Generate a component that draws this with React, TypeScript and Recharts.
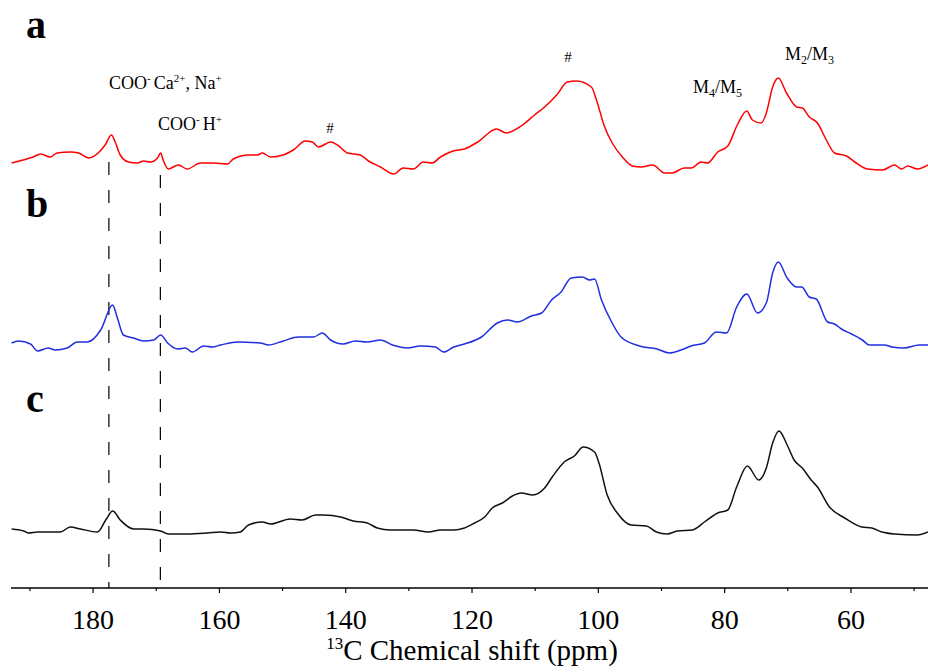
import { LineChart, Line, XAxis, YAxis, ReferenceLine } from 'recharts';

// chemical shift axis (ppm), reversed as in NMR plots
const PPM_MIN = 47.8;
const PPM_MAX = 193;
const PPM_TICKS = [190, 180, 170, 160, 150, 140, 130, 120, 110, 100, 90, 80, 70, 60, 50];

// vertical stacking offsets for the three spectra
const OFFSET_A = 420;
const OFFSET_B = 240;
const OFFSET_C = 55;

// dashed guides for the carboxyl peaks
const COO_SALT_PPM = 177.5;
const COO_ACID_PPM = 169.35;

// spectrum a (red)
const ppmA = [
  192.9, 189.5, 188.3, 186.8, 185.7, 183.6, 182.3, 180.7, 179.2, 178.1, 177.1, 176.5, 175.7, 174.4,
  173.0, 172.0, 170.9, 169.8, 169.3, 168.9, 168.1, 166.5, 165.1, 163.0, 160.9, 158.7, 157.8, 155.4,
  154.0, 153.2, 151.9, 149.9, 148.3, 146.4, 145.3, 144.3, 142.4, 141.3, 139.7, 137.7, 136.4, 134.5,
  132.4, 130.9, 129.3, 127.7, 126.3, 125.0, 123.0, 121.2, 119.1, 116.1, 114.6, 112.0, 110.1, 108.5,
  106.6, 104.9, 103.5, 101.1, 100.3, 99.0, 97.8, 96.2, 94.6, 93.2, 91.4, 89.5, 88.3, 86.4, 85.3,
  83.7, 82.7, 81.1, 79.5, 78.0, 76.5, 75.6, 74.2, 73.4, 72.4, 71.5, 70.2, 68.6, 67.7, 66.6, 65.3,
  63.9, 62.6, 60.7, 59.4, 57.4, 55.0, 53.1, 52.0, 51.0, 49.5, 47.8,
];
const intA = [
  5, 11, 14, 11, 15, 16, 15, 10, 15, 23, 33, 26, 13, 6,
  5, 7, 6, 10, 15, 8, -1, 3, -1, 5, 5, 4, 9, 13,
  13, 15, 11, 13, 18, 27, 26, 21, 26, 23, 15, 13, 7, 1,
  -6, 0, -1, 6, 5, 11, 17, 19, 26, 39, 35, 43, 53, 61,
  73, 86, 87, 81, 68, 41, 25, 11, 2, 1, 3, -5, -5, 0, 0,
  6, 5, 16, 22, 43, 57, 48, 45, 55, 81, 90, 75, 61, 60, 51, 45,
  28, 15, 12, 6, -1, -2, 3, -1, 2, -1, 3,
];

// spectrum b (blue)
const ppmB = [
  192.9, 191.8, 189.9, 188.8, 187.1, 186.0, 184.1, 182.5, 180.9, 178.8, 176.9, 176.2, 175.2, 173.6,
  172.0, 170.4, 169.3, 168.2, 166.6, 165.4, 164.3, 162.5, 161.1, 159.8, 157.1, 153.5, 152.2, 149.9,
  147.5, 145.1, 143.7, 142.4, 140.4, 138.5, 136.6, 134.5, 132.6, 130.2, 128.2, 125.8, 124.5, 122.9,
  121.2, 118.5, 116.0, 114.4, 112.8, 110.6, 109.0, 107.4, 105.9, 104.3, 102.5, 101.4, 100.6, 99.5,
  97.9, 96.4, 93.5, 90.7, 88.8, 86.9, 85.3, 83.2, 81.3, 79.7, 78.1, 76.5, 74.8, 73.4, 72.4, 71.5,
  70.1, 68.6, 67.8, 66.6, 65.5, 63.7, 62.6, 61.5, 59.9, 58.2, 57.1, 54.7, 53.5, 51.6, 49.2, 47.8,
];
const intB = [
  5, 7, 4, -3, 0, -2, 0, 6, 6, 18, 43, 31, 13, 10,
  7, 8, 13, 5, -1, 0, -4, 2, 1, 3, 6, 5, 3, 7,
  11, 11, 15, 8, 4, 7, 6, 8, 3, 0, 2, 1, -4, 1,
  4, 11, 25, 28, 26, 32, 35, 48, 56, 70, 71, 68, 69, 48,
  26, 11, 2, -1, -5, -2, 2, 5, 16, 15, 41, 54, 35, 45, 75, 86,
  70, 61, 61, 51, 49, 26, 24, 19, 14, 8, 3, 3, 1, 0, 3, 3,
];

// spectrum c (black)
const ppmC = [
  192.9, 191.0, 190.2, 188.8, 185.2, 183.6, 182.0, 179.3, 178.0, 176.9, 175.7, 173.6, 172.0, 169.3,
  168.1, 165.1, 161.9, 159.8, 158.2, 156.7, 155.4, 153.2, 151.9, 148.8, 146.9, 144.8, 143.5, 140.8,
  138.8, 136.6, 135.0, 132.9, 129.3, 126.9, 125.0, 122.9, 121.2, 119.6, 118.0, 116.8, 115.2, 113.6,
  112.2, 110.4, 108.5, 107.3, 105.4, 103.8, 102.4, 100.6, 99.9, 98.6, 97.0, 94.8, 92.4, 90.8, 89.1,
  87.5, 85.1, 83.2, 81.1, 79.5, 78.1, 76.4, 74.6, 73.4, 72.4, 71.4, 70.1, 69.0, 67.7, 66.3, 65.3,
  63.4, 61.0, 58.3, 56.7, 55.1, 53.1, 49.5, 47.8,
];
const intC = [
  4, 2, 0, 1, 1, 6, 4, 1, 13, 22, 13, 4, 4, 2,
  -1, -1, 0, 1, 0, 1, 8, 11, 9, 14, 13, 18, 18, 16,
  12, 10, 5, 3, 3, 1, 3, 3, 5, 10, 16, 25, 30, 37,
  40, 38, 45, 56, 71, 77, 86, 81, 70, 38, 20, 8, 7, 1, -1,
  2, 3, 11, 20, 23, 46, 67, 53, 65, 90, 102, 88, 73, 65, 53, 46,
  26, 15, 6, 5, 1, -1, -2, 1,
];

const toSeries = (ppm: number[], values: number[], offset: number) =>
  ppm.map((p, i) => ({ ppm: p, value: values[i] + offset }));

const seriesA = toSeries(ppmA, intA, OFFSET_A);
const seriesB = toSeries(ppmB, intB, OFFSET_B);
const seriesC = toSeries(ppmC, intC, OFFSET_C);

const SERIF = '"Liberation Serif", "Times New Roman", serif';

function PpmTick(props: any) {
  const { x, y, payload } = props;
  const major = payload.value % 20 === 0;
  return (
    <g>
      <line x1={x} x2={x} y1={y} y2={y + (major ? 5 : 3)} stroke="#000" strokeWidth={1.2} />
      {major && (
        <text x={x} y={y + 41} textAnchor="middle" fontFamily={SERIF} fontSize={28} fill="#000">
          {payload.value}
        </text>
      )}
    </g>
  );
}

export default function App() {
  return (
    <div style={{ position: 'absolute', left: 0, top: 0, width: 928, height: 672, background: '#fff' }}>
      <LineChart width={928} height={672} margin={{ top: 0, right: 0, left: 11, bottom: 0 }}>
        <XAxis
          type="number"
          dataKey="ppm"
          domain={[PPM_MIN, PPM_MAX]}
          reversed
          allowDataOverflow
          ticks={PPM_TICKS}
          interval={0}
          height={84}
          tickSize={0}
          tickMargin={0}
          tickLine={false}
          axisLine={{ stroke: '#000', strokeWidth: 1.3 }}
          tick={<PpmTick />}
        />
        <YAxis hide type="number" domain={[0, 588]} />
        <ReferenceLine
          segment={[{ x: COO_SALT_PPM, y: 426 }, { x: COO_SALT_PPM, y: 0 }]}
          stroke="#000"
          strokeWidth={1.2}
          strokeDasharray="13 15"
        />
        <ReferenceLine
          segment={[{ x: COO_ACID_PPM, y: 413 }, { x: COO_ACID_PPM, y: 0 }]}
          stroke="#000"
          strokeWidth={1.2}
          strokeDasharray="13 15"
        />
        <Line data={seriesA} dataKey="value" type="monotone" stroke="#ff0000" strokeWidth={1.5} dot={false} isAnimationActive={false} />
        <Line data={seriesB} dataKey="value" type="monotone" stroke="#1f2fe0" strokeWidth={1.5} dot={false} isAnimationActive={false} />
        <Line data={seriesC} dataKey="value" type="monotone" stroke="#111" strokeWidth={1.5} dot={false} isAnimationActive={false} />
      </LineChart>
      <svg
        width={928}
        height={672}
        style={{ position: 'absolute', left: 0, top: 0, pointerEvents: 'none' }}
        fontFamily={SERIF}
        fill="#000"
      >
        <text x={26} y={38} fontSize={40} fontWeight="bold">a</text>
        <text x={26} y={217} fontSize={40} fontWeight="bold">b</text>
        <text x={26} y={412} fontSize={40} fontWeight="bold">c</text>

        <text x={109} y={89} fontSize={18}>
          COO<tspan dy={-7} fontSize={11}>-</tspan>
          <tspan dx={3} dy={7}>Ca</tspan>
          <tspan dy={-7} fontSize={11}>2+</tspan>
          <tspan dy={7}>, Na</tspan>
          <tspan dy={-7} fontSize={11}>+</tspan>
        </text>
        <text x={158} y={130} fontSize={18}>
          COO<tspan dy={-7} fontSize={11}>-</tspan>
          <tspan dx={3} dy={7}>H</tspan>
          <tspan dy={-7} fontSize={11}>+</tspan>
        </text>

        <text x={330} y={133} fontSize={15} textAnchor="middle">#</text>
        <text x={568} y={62} fontSize={15} textAnchor="middle">#</text>

        <text x={693} y={93} fontSize={18}>
          M<tspan dy={4} fontSize={12}>4</tspan>
          <tspan dy={-4}>/M</tspan>
          <tspan dy={4} fontSize={12}>5</tspan>
        </text>
        <text x={785} y={60} fontSize={18}>
          M<tspan dy={4} fontSize={12}>2</tspan>
          <tspan dy={-4}>/M</tspan>
          <tspan dy={4} fontSize={12}>3</tspan>
        </text>

        <text x={472} y={660} fontSize={29} textAnchor="middle">
          <tspan dy={-11} fontSize={17}>13</tspan>
          <tspan dy={11}>C Chemical shift (ppm)</tspan>
        </text>
      </svg>
    </div>
  );
}
